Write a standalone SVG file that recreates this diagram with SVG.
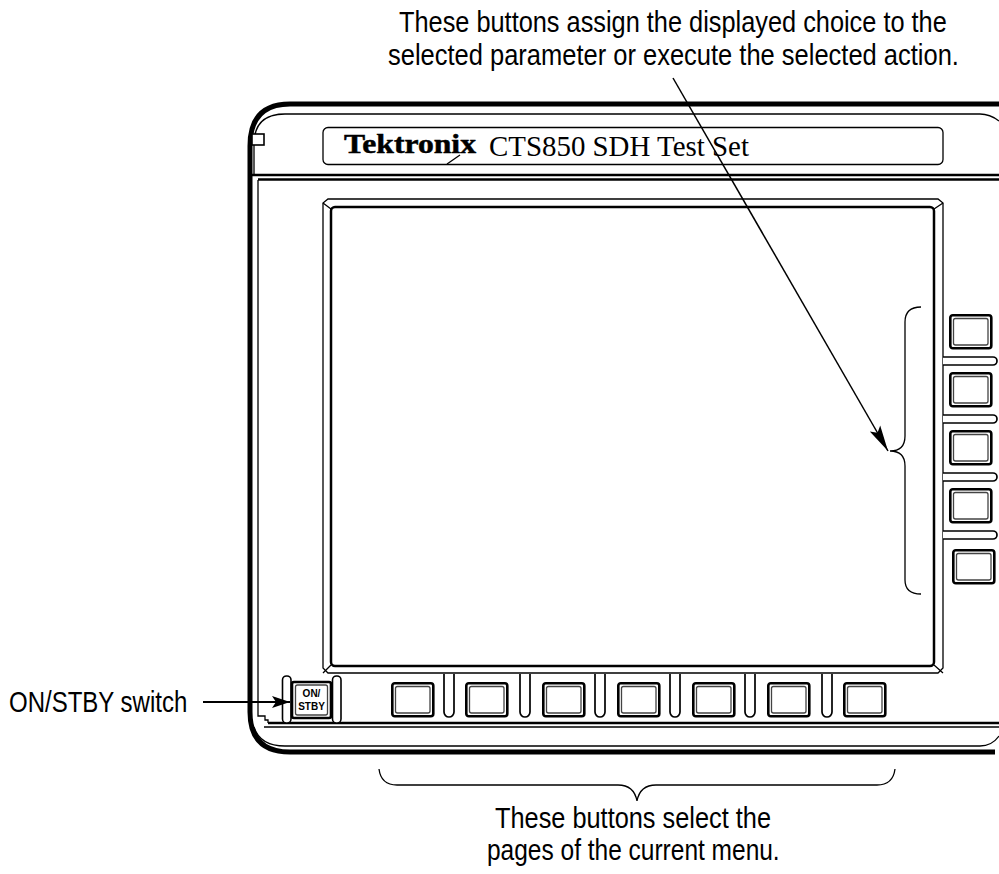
<svg xmlns="http://www.w3.org/2000/svg" width="999" height="874" viewBox="0 0 999 874">
<style>
text{fill:#000;font-family:"Liberation Sans",Arial,sans-serif;font-size:29px}
.s{font-family:"Liberation Serif","Times New Roman",serif}
.n{fill:none;stroke:#000}
.t{stroke-width:1.3}
.m{stroke-width:2.5}
.bo{fill:#fff;stroke:#000;stroke-width:2.6}
.bi{fill:none;stroke:#444;stroke-width:1.3}
.p{fill:#fff;stroke:#000;stroke-width:1.7}
</style>
<defs>
<marker id="a" markerUnits="userSpaceOnUse" markerWidth="28" markerHeight="16" refX="26" refY="8" orient="auto"><path d="M0,2 L26,8 L0,14 L5,8 Z" fill="#000"/></marker>
<marker id="b" markerUnits="userSpaceOnUse" markerWidth="20" markerHeight="14" refX="18" refY="7" orient="auto"><path d="M0,1 L18,7 L0,13 L4,7 Z" fill="#000"/></marker>
<g id="btn"><rect class="bo" x="1.300" y="1.300" width="41" height="33" rx="2.500"/><rect class="bi" x="4.500" y="4.500" width="34.500" height="26.500" rx="2"/></g>
<path id="pv" d="M0,0 V38 A5,5 0 0 0 10,38 V0"/>
<path id="ph" d="M0,1 H50 A4,4 0 0 1 50,9 H0"/>
</defs>
<g id="bezel">
<path class="n" stroke-width="5" d="M999,104 H290 Q250,104 250,146 V712 Q250,752 290,752 H995"/>
<path class="n t" d="M999,121 Q990,114 980,114 H285 Q254,114 254,144 V175"/>
<path class="n t" d="M258,180 V716 H265 V720 H268 V723"/>
<path class="n m" d="M250,175 H999"/>
<path class="n m" d="M258,179.500 H999"/>
<path class="n m" d="M268,723 H999"/>
<path class="n t" d="M264,727 H999"/>
<path class="n t" d="M254,727 Q260,746 285,746 H980 Q992,746 999,736"/>
<rect x="252" y="134" width="12" height="11" fill="#fff" stroke="#000" stroke-width="1.600"/>
</g>
<g id="title-plate">
<rect class="n t" x="323" y="127.500" width="620" height="37" rx="5"/>
<text class="s" x="344" y="153" font-weight="bold" style="font-size:28px;stroke:#000;stroke-width:.5" textLength="132" lengthAdjust="spacingAndGlyphs">Tektronix</text>
<text class="s" x="489" y="156" style="font-size:28.900px">CTS850 SDH Test Set</text>
</g>
<g id="screen">
<path class="n t" d="M328,199 H938 L943,203 V668 L938,673 H328 L323,668 V203 Z"/>
<rect class="n m" x="331" y="207" width="603" height="459" rx="4"/>
<path class="n t" d="M323,203 L331,209 M943,203 L934,209 M323,673 L331,665 M943,673 L934,665"/>
</g>
<g id="side-buttons">
<use href="#btn" x="949" y="314"/>
<use href="#btn" x="949" y="372"/>
<use href="#btn" x="949" y="430"/>
<use href="#btn" x="949" y="488"/>
<use href="#btn" x="952" y="549"/>
<use href="#ph" class="p" x="943" y="356"/>
<use href="#ph" class="p" x="943" y="414"/>
<use href="#ph" class="p" x="943" y="472"/>
<use href="#ph" class="p" x="943" y="530"/>
</g>
<g id="menu-buttons">
<use href="#btn" x="391" y="682"/>
<use href="#btn" x="465" y="682"/>
<use href="#btn" x="542" y="682"/>
<use href="#btn" x="617" y="682"/>
<use href="#btn" x="692" y="682"/>
<use href="#btn" x="767" y="682"/>
<use href="#btn" x="843" y="682"/>
<use href="#pv" class="p" x="444" y="674"/>
<use href="#pv" class="p" x="520" y="674"/>
<use href="#pv" class="p" x="595" y="674"/>
<use href="#pv" class="p" x="670" y="674"/>
<use href="#pv" class="p" x="745" y="674"/>
<use href="#pv" class="p" x="822" y="674"/>
</g>
<g id="on-stby">
<rect x="282.500" y="676" width="8.500" height="47" rx="4" fill="#fff" stroke="#000" stroke-width="1.600"/>
<rect x="332.500" y="676" width="8.500" height="47" rx="4" fill="#fff" stroke="#000" stroke-width="1.600"/>
<rect class="bo" x="292" y="682" width="39" height="36" rx="2"/>
<rect class="bi" x="295.500" y="685" width="32" height="30" rx="2"/>
<text x="311.500" y="696.500" text-anchor="middle" font-weight="bold" style="font-size:10px">ON/</text>
<text x="311.500" y="709.500" text-anchor="middle" font-weight="bold" style="font-size:10px">STBY</text>
</g>
<g id="connectors">
<path class="n" stroke-width="1.300" d="M447,164 L460,155"/>
<path class="n" stroke-width="1.500" d="M673,78 L888,451" marker-end="url(#a)"/>
<path class="n" stroke-width="1.800" d="M203,702 H290" marker-end="url(#b)"/>
<path class="n" stroke-width="1.300" d="M921,307 Q905,307 905,322 V436 Q905,451 890,451 Q905,451 905,466 V580 Q905,594 921,594"/>
<path class="n" stroke-width="1.300" d="M379,769 Q381,785 397,785 H618 Q634,785 637,801 Q640,785 656,785 H877 Q893,785 895,769"/>
</g>
<g id="labels">
<text transform="translate(399,32) scale(.874,1)">These buttons assign the displayed choice to the</text>
<text transform="translate(388,65) scale(.879,1)">selected parameter or execute the selected action.</text>
<text transform="translate(9,712) scale(.828,1)">ON/STBY switch</text>
<text transform="translate(495,828) scale(.874,1)">These buttons select the</text>
<text transform="translate(487,860) scale(.845,1)">pages of the current menu.</text>
</g>
</svg>
